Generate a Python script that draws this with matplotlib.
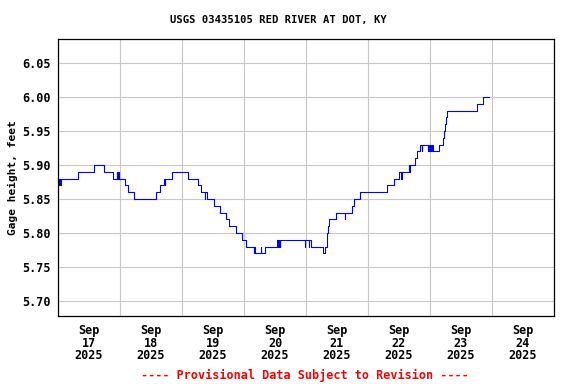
import matplotlib
matplotlib.use('Agg')
from matplotlib import pyplot as plt
import matplotlib.dates as mdates
import pandas as pd

### Data (15-min steps) ###

times = [
    '2025-09-17 00:00', '2025-09-17 00:30', '2025-09-17 00:45', '2025-09-17 01:00',
    '2025-09-17 07:45', '2025-09-17 13:45', '2025-09-17 17:45', '2025-09-17 21:15',
    '2025-09-17 22:45', '2025-09-17 23:00', '2025-09-17 23:15', '2025-09-17 23:45',
    '2025-09-18 01:45', '2025-09-18 03:00', '2025-09-18 05:15', '2025-09-18 14:00',
    '2025-09-18 15:30', '2025-09-18 17:00', '2025-09-18 17:15', '2025-09-18 17:30',
    '2025-09-18 20:00', '2025-09-19 02:15', '2025-09-19 06:00', '2025-09-19 07:30',
    '2025-09-19 08:45', '2025-09-19 09:00', '2025-09-19 09:30', '2025-09-19 12:30',
    '2025-09-19 14:45', '2025-09-19 17:00', '2025-09-19 18:15', '2025-09-19 20:45',
    '2025-09-19 23:15', '2025-09-20 00:45', '2025-09-20 03:45', '2025-09-20 04:00',
    '2025-09-20 04:15', '2025-09-20 06:30', '2025-09-20 06:45', '2025-09-20 08:00',
    '2025-09-20 12:45', '2025-09-20 13:00', '2025-09-20 13:15', '2025-09-20 13:30',
    '2025-09-20 13:45', '2025-09-20 23:30', '2025-09-20 23:45', '2025-09-21 01:00',
    '2025-09-21 01:15', '2025-09-21 02:00', '2025-09-21 06:30', '2025-09-21 07:15',
    '2025-09-21 08:00', '2025-09-21 08:15', '2025-09-21 08:30', '2025-09-21 08:45',
    '2025-09-21 11:30', '2025-09-21 15:00', '2025-09-21 15:15', '2025-09-21 17:45',
    '2025-09-21 18:30', '2025-09-21 21:00', '2025-09-22 07:15', '2025-09-22 10:00',
    '2025-09-22 12:00', '2025-09-22 12:45', '2025-09-22 13:00', '2025-09-22 15:45',
    '2025-09-22 16:00', '2025-09-22 16:15', '2025-09-22 18:15', '2025-09-22 19:00',
    '2025-09-22 20:00', '2025-09-22 20:45', '2025-09-22 21:00', '2025-09-22 23:15',
    '2025-09-22 23:30', '2025-09-22 23:45', '2025-09-23 00:00', '2025-09-23 00:30',
    '2025-09-23 00:45', '2025-09-23 01:00', '2025-09-23 03:30', '2025-09-23 05:00',
    '2025-09-23 05:30', '2025-09-23 05:45', '2025-09-23 06:15', '2025-09-23 06:45',
    '2025-09-23 18:15', '2025-09-23 20:30', '2025-09-23 22:45',
]
gage_height = [
    5.87, 5.88, 5.87, 5.88,
    5.89, 5.90, 5.89, 5.88,
    5.89, 5.88, 5.89, 5.88,
    5.87, 5.86, 5.85, 5.86,
    5.87, 5.88, 5.87, 5.88,
    5.89, 5.88, 5.87, 5.86,
    5.85, 5.86, 5.85, 5.84,
    5.83, 5.82, 5.81, 5.80,
    5.79, 5.78, 5.77, 5.78,
    5.77, 5.78, 5.77, 5.78,
    5.79, 5.78, 5.79, 5.78,
    5.79, 5.78, 5.79, 5.78,
    5.79, 5.78, 5.77, 5.78,
    5.79, 5.80, 5.81, 5.82,
    5.83, 5.82, 5.83, 5.84,
    5.85, 5.86, 5.87, 5.88,
    5.89, 5.88, 5.89, 5.90,
    5.89, 5.90, 5.91, 5.92,
    5.93, 5.92, 5.93, 5.92,
    5.93, 5.92, 5.93, 5.92,
    5.93, 5.92, 5.93, 5.94,
    5.95, 5.96, 5.97, 5.98,
    5.99, 6.00, 6.00,
]

day_labels = ['Sep\n17\n2025', 'Sep\n18\n2025', 'Sep\n19\n2025', 'Sep\n20\n2025',
              'Sep\n21\n2025', 'Sep\n22\n2025', 'Sep\n23\n2025', 'Sep\n24\n2025']
y_ticks = [5.70, 5.75, 5.80, 5.85, 5.90, 5.95, 6.00, 6.05]

title = 'USGS 03435105 RED RIVER AT DOT, KY'
footer = '---- Provisional Data Subject to Revision ----'

### Plot ###

mono = 'DejaVu Sans Mono'
t = pd.to_datetime(times)

fig = plt.figure(figsize=(5.76, 3.84), dpi=100)
ax = fig.add_axes([0.1007, 0.1771, 0.8611, 0.7213])

ax.plot(t, gage_height, drawstyle='steps-post', color='#0000ff', linewidth=0.8)

start = pd.Timestamp('2025-09-17 00:00')
end = pd.Timestamp('2025-09-25 00:00')
ax.set_xlim(start, end)
ax.set_ylim(5.678, 6.0853)

# gridlines at midnight, labels at noon
midnights = pd.date_range(start, end, freq='D')
noons = pd.date_range('2025-09-17 12:00', periods=len(day_labels), freq='D')
ax.set_xticks(midnights)
ax.set_xticklabels([''] * len(midnights))
ax.set_xticks(noons, minor=True)
ax.set_xticklabels(day_labels, minor=True, fontfamily=mono, fontweight='bold',
                   fontsize=8.5, linespacing=0.95)
ax.tick_params(axis='x', which='both', length=0, pad=6)

ax.set_yticks(y_ticks)
ax.set_yticklabels(['%.2f' % v for v in y_ticks], fontfamily=mono,
                   fontweight='bold', fontsize=8.5)
ax.tick_params(axis='y', length=0, pad=5)

ax.grid(True, which='major', color='#c8c8c8', linewidth=0.8)
ax.set_axisbelow(True)
for s in ax.spines.values():
    s.set_color('black')
    s.set_linewidth(0.9)

ax.set_ylabel('Gage height, feet', fontfamily=mono, fontweight='bold',
              fontsize=8.0, labelpad=3)
fig.text(0.4835, 0.948, title, ha='center', va='center', fontfamily=mono,
         fontweight='bold', fontsize=7.6)
fig.text(0.5295, 0.023, footer, ha='center', va='center', fontfamily=mono,
         fontweight='bold', fontsize=8.5, color='red')

fig.savefig('out.png', dpi=100)
